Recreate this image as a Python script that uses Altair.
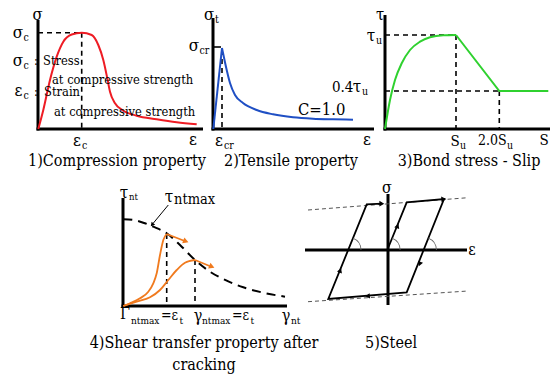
import altair as alt
import pandas as pd

# ---------------- data (picture coordinates) ----------------
# 1) Compression
compression_x = [38.3, 43.3, 50.0, 56.7, 63.3, 71.7, 81.7, 91.7, 98.3, 103.3, 107.3, 110.0, 115.0, 123.3, 136.7, 156.7, 176.7, 196.7]
compression_y = [129.0, 110.0, 80.0, 56.7, 41.7, 34.5, 32.7, 35.0, 45.0, 60.0, 78.3, 91.7, 103.3, 110.7, 115.7, 119.3, 122.3, 124.3]
# 2) Tensile
tensile_rise_x = [213.3, 222.0]
tensile_rise_y = [129.0, 48.0]
tensile_decay_x = [222.0, 224.5, 226.7, 230.0, 235.0, 243.0, 256.7, 273.0, 293.0, 313.0, 333.0, 353.0]
tensile_decay_y = [48.0, 60.0, 70.0, 83.0, 95.0, 103.0, 110.0, 114.3, 117.3, 118.7, 119.3, 119.7]
# 3) Bond stress - slip
bond_rise_x = [385.0, 390.0, 395.0, 401.7, 410.0, 420.0, 430.0, 443.3, 456.0]
bond_rise_y = [129.0, 100.0, 80.0, 63.3, 50.0, 41.7, 37.3, 35.3, 35.0]
bond_soft_x = [456.0, 499.3, 548.3]
bond_soft_y = [35.0, 91.0, 91.0]
# 4) Shear transfer
envelope_x = [123.3, 133.3, 143.3, 153.3, 166.7, 180.0, 195.0, 210.0, 226.7, 243.3, 263.3, 285.0]
envelope_y = [219.3, 220.0, 222.7, 226.7, 233.3, 245.0, 260.0, 271.7, 280.7, 287.3, 292.7, 296.7]
shear1_x = [123.3, 130.0, 140.0, 148.3, 153.3, 156.7, 160.0, 163.3, 166.7]
shear1_y = [306.0, 303.3, 298.3, 291.7, 283.3, 273.3, 255.0, 240.0, 234.0]
shear1_arrow_x = [166.7, 186.0]
shear1_arrow_y = [234.0, 241.5]
shear2_x = [123.3, 136.7, 150.0, 160.0, 168.3, 176.7, 185.0, 195.0]
shear2_y = [306.0, 301.7, 297.3, 290.0, 280.0, 270.0, 262.7, 260.0]
shear2_arrow_x = [195.0, 212.0]
shear2_arrow_y = [260.0, 267.0]
pointer_x = [168.3, 153.0]
pointer_y = [205.0, 223.5]
# 5) Steel
steel_x = [387.3, 406.7, 444.0, 406.7, 328.3, 366.7, 382.0]
steel_y = [250.0, 202.3, 199.0, 292.3, 299.0, 204.3, 203.7]
guide_top_x = [308.0, 468.0]
guide_top_y = [210.0, 197.7]
guide_bot_x = [308.0, 468.0]
guide_bot_y = [301.7, 291.0]
arc_x = [348.2, 387.3, 423.6]
arc_y = [250.0, 250.0, 250.0]

# arrow heads
head_x = [185.0, 211.0, 152.5, 381.0, 397.3, 443.0, 420.0, 368.3, 340.0]
head_y = [241.0, 266.3, 224.3, 203.7, 226.7, 199.2, 263.3, 296.0, 271.0]
head_angle = [111, 112, 220, 90, 22, 85, 202, 265, 22]
head_color = ["#f07a1e", "#f07a1e", "black", "black", "black", "black", "black", "black", "black"]
head_size = [40, 40, 22, 32, 28, 32, 28, 28, 28]

# axes
axes = [
    ([38, 38], [20, 130.5]), ([36.5, 203], [129, 129]),
    ([213, 213], [18, 130.5]), ([211.5, 374], [129, 129]),
    ([385, 385], [15, 130.5]), ([383.5, 550], [129, 129]),
    ([123, 123], [198, 307.5]), ([121.5, 287], [306, 306]),
    ([388, 388], [194, 305]), ([305, 467], [250, 250]),
]
dashed = [
    ([38, 82], [32.7, 32.7]), ([81.7, 81.7], [32.7, 128]),
    ([222, 222], [50, 128]),
    ([385, 456], [35, 35]), ([456, 456], [35, 128]),
    ([385, 499.3], [91, 91]), ([499.3, 499.3], [91, 128]),
    ([166.7, 166.7], [234, 305]), ([195, 195], [260, 305]),
]
short_solid = [([213, 221], [47, 47])]

# labels: text, x, y, font size, alignment
labels = [
    ("σ", 37.5, 15, 16.5, "center"),
    ("σ", 18, 33, 17, "center"), ("c", 23.5, 38, 10.5, "left"),
    ("σ", 18, 61, 17, "center"), ("c", 23.5, 66, 10.5, "left"),
    (":", 34, 61, 12.8, "left"), ("Stress", 43, 61, 12.8, "left"),
    ("at compressive strength", 52, 80, 12.8, "left"),
    ("ε", 18.5, 91, 17, "center"), ("c", 23.5, 96, 10.5, "left"),
    (":", 34, 92, 12.8, "left"), ("Strain", 44, 92, 12.8, "left"),
    ("at compressive strength", 54, 111.5, 12.8, "left"),
    ("ε", 77, 141, 17, "center"), ("c", 82, 145.5, 10.5, "left"),
    ("ε", 193, 140, 17, "center"),
    ("1)Compression property", 117, 160.5, 16, "center"),
    ("σ", 209, 15, 16.5, "center"), ("t", 215, 19.5, 10.5, "left"),
    ("σ", 194, 46, 17, "center"), ("cr", 199.5, 51, 10.5, "left"),
    ("ε", 219, 141, 17, "center"), ("cr", 224, 145.5, 10.5, "left"),
    ("ε", 367, 140, 17, "center"),
    ("C=1.0", 298, 110, 16.5, "left"),
    ("0.4", 332, 87, 15, "left"), ("τ", 357, 87, 17, "center"), ("u", 362, 92, 10.5, "left"),
    ("2)Tensile property", 291, 160.5, 16, "center"),
    ("τ", 380, 15, 16.5, "center"),
    ("τ", 371, 36, 17, "center"), ("u", 376, 41, 10.5, "left"),
    ("S", 455, 141, 15, "center"), ("u", 460, 145.5, 10.5, "left"),
    ("2.0S", 478, 141, 14, "left"), ("u", 507, 145.5, 10.5, "left"),
    ("S", 544, 140, 15, "center"),
    ("3)Bond stress - Slip", 469, 160.5, 16, "center"),
    ("τ", 124, 193, 17, "center"), ("nt", 129, 197, 9.5, "left"),
    ("τ", 169, 197, 17, "center"), ("ntmax", 174, 200, 14.5, "left"),
    ("Γ", 125, 314, 16, "center"), ("ntmax", 131, 321, 10, "left"),
    ("=ε", 161, 316, 14, "left"), ("t", 179.5, 321, 10, "left"),
    ("γ", 198, 316, 16, "center"), ("ntmax", 202, 321, 10, "left"),
    ("=ε", 232, 316, 14, "left"), ("t", 250.5, 321, 10, "left"),
    ("γ", 286, 316, 16, "center"), ("nt", 291, 321, 10, "left"),
    ("4)Shear transfer property after", 204, 343, 16, "center"),
    ("cracking", 204, 365, 16, "center"),
    ("σ", 387, 188, 16, "center"),
    ("ε", 472, 250, 16, "center"),
    ("5)Steel", 391, 343, 16, "center"),
]

# ---------------- chart ----------------
xs = alt.Scale(domain=[8, 552], nice=False, zero=False)
ys = alt.Scale(domain=[8, 374], nice=False, zero=False, reverse=True)
X = alt.X("x:Q", scale=xs, axis=None)
Y = alt.Y("y:Q", scale=ys, axis=None)
FONT = "DejaVu Serif Condensed, DejaVu Serif"


def line(xv, yv, color, width, dash=None, interp="linear"):
    df = pd.DataFrame({"x": xv, "y": yv, "i": list(range(len(xv)))})
    kw = dict(color=color, strokeWidth=width, interpolate=interp, strokeCap="butt")
    if dash:
        kw["strokeDash"] = dash
    return alt.Chart(df).mark_line(**kw).encode(x=X, y=Y, order="i:Q")


layers = []
for xv, yv in axes:
    layers.append(line(xv, yv, "black", 3))
for xv, yv in dashed:
    layers.append(line(xv, yv, "black", 1.6, [5, 4]))
for xv, yv in short_solid:
    layers.append(line(xv, yv, "black", 1.6))

RED, BLUE, GREEN, ORANGE = "#ee1c24", "#1f4fc4", "#2fd12f", "#f07a1e"
layers.append(line(compression_x, compression_y, RED, 2, interp="monotone"))
layers.append(line(tensile_rise_x, tensile_rise_y, BLUE, 2))
layers.append(line(tensile_decay_x, tensile_decay_y, BLUE, 2, interp="monotone"))
layers.append(line(bond_rise_x, bond_rise_y, GREEN, 2, interp="monotone"))
layers.append(line(bond_soft_x, bond_soft_y, GREEN, 2))
layers.append(line(envelope_x, envelope_y, "black", 2, [9, 6], interp="monotone"))
layers.append(line(shear1_x, shear1_y, ORANGE, 1.8, interp="monotone"))
layers.append(line(shear1_arrow_x, shear1_arrow_y, ORANGE, 1.8))
layers.append(line(shear2_x, shear2_y, ORANGE, 1.8, interp="monotone"))
layers.append(line(shear2_arrow_x, shear2_arrow_y, ORANGE, 1.8))
layers.append(line(pointer_x, pointer_y, "black", 1))
layers.append(line(guide_top_x, guide_top_y, "#555555", 1, [4, 3]))
layers.append(line(guide_bot_x, guide_bot_y, "#555555", 1, [4, 3]))
layers.append(line(steel_x, steel_y, "black", 1.8))

arcs = alt.Chart(pd.DataFrame({"x": arc_x, "y": arc_y})).mark_arc(
    theta=0.384, theta2=1.571, innerRadius=12.4, outerRadius=13.2, color="#666666"
).encode(x=X, y=Y)
layers.append(arcs)

heads = alt.Chart(pd.DataFrame({"x": head_x, "y": head_y, "a": head_angle, "c": head_color, "s": head_size})).mark_point(
    shape="triangle", filled=True, opacity=1
).encode(
    x=X, y=Y,
    angle=alt.Angle("a:Q", scale=None),
    color=alt.Color("c:N", scale=None),
    size=alt.Size("s:Q", scale=None),
)
layers.append(heads)

lab = pd.DataFrame(labels, columns=["t", "x", "y", "s", "al"])
for al in ["left", "center"]:
    layers.append(
        alt.Chart(lab[lab["al"] == al]).mark_text(font=FONT, align=al, baseline="middle", color="black").encode(
            x=X, y=Y, text="t:N", size=alt.Size("s:Q", scale=None)
        )
    )

chart = alt.layer(*layers).properties(
    width=544, height=366, padding=0, autosize=alt.AutoSizeParams(type="none"), background="white"
).configure_view(stroke=None)

chart.save("out.html", embed_options={"renderer": "svg", "actions": False})
